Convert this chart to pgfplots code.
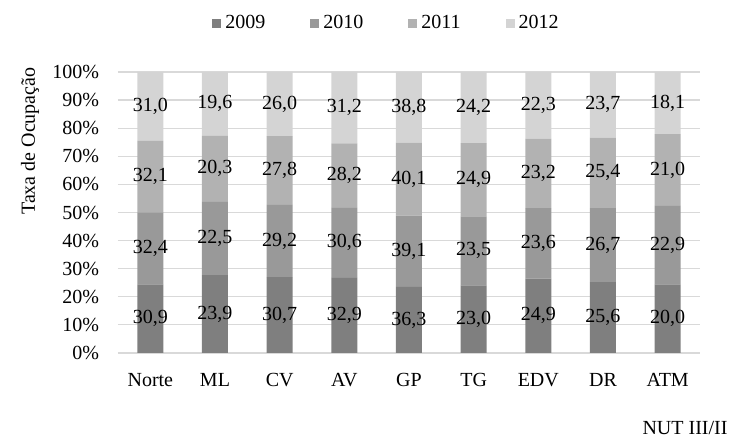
\documentclass[border=0pt]{standalone}
\usepackage{fontspec}
\setmainfont{Liberation Serif}
\usepackage{pgfplots}
\usepackage{pgfplotstable}
\pgfplotsset{compat=1.18}
\pgfkeys{/pgf/number format/assume math mode=true}
\definecolor{c09}{HTML}{7F7F7F}
\definecolor{c10}{HTML}{999999}
\definecolor{c11}{HTML}{B2B2B2}
\definecolor{c12}{HTML}{D4D4D4}
\definecolor{gridc}{HTML}{D9D9D9}

\pgfplotstableread{
idx cat a b c d
0 Norte 30.9 32.4 32.1 31.0
1 ML 23.9 22.5 20.3 19.6
2 CV 30.7 29.2 27.8 26.0
3 AV 32.9 30.6 28.2 31.2
4 GP 36.3 39.1 40.1 38.8
5 TG 23.0 23.5 24.9 24.2
6 EDV 24.9 23.6 23.2 22.3
7 DR 25.6 26.7 25.4 23.7
8 ATM 20.0 22.9 21.0 18.1
}\data
% shares of each year in the 100% column
\pgfplotstablecreatecol[create col/expr={100*\thisrow{a}/(\thisrow{a}+\thisrow{b}+\thisrow{c}+\thisrow{d})}]{pa}\data
\pgfplotstablecreatecol[create col/expr={100*\thisrow{b}/(\thisrow{a}+\thisrow{b}+\thisrow{c}+\thisrow{d})}]{pb}\data
\pgfplotstablecreatecol[create col/expr={100*\thisrow{c}/(\thisrow{a}+\thisrow{b}+\thisrow{c}+\thisrow{d})}]{pc}\data
\pgfplotstablecreatecol[create col/expr={100*\thisrow{d}/(\thisrow{a}+\thisrow{b}+\thisrow{c}+\thisrow{d})}]{pd}\data
% middle of each segment, for the value labels
\pgfplotstablecreatecol[create col/expr={\thisrow{pa}/2}]{ma}\data
\pgfplotstablecreatecol[create col/expr={\thisrow{pa}+\thisrow{pb}/2}]{mb}\data
\pgfplotstablecreatecol[create col/expr={\thisrow{pa}+\thisrow{pb}+\thisrow{pc}/2}]{mc}\data
\pgfplotstablecreatecol[create col/expr={\thisrow{pa}+\thisrow{pb}+\thisrow{pc}+\thisrow{pd}/2}]{md}\data

\pgfplotsset{
  sq/.style={legend image code/.code={\fill[##1] (0pt,-2.25pt) rectangle (4.5pt,2.25pt);}},
  common/.style={
    at={(0,0)}, anchor=south west,
    scale only axis, width=291pt, height=140.5pt,
    xmin=-0.5, xmax=8.5, ymin=0, ymax=100, enlargelimits=false,
  },
  lab/.style={
    draw=none, mark=none, point meta=explicit,
    nodes near coords={\pgfmathprintnumber[fixed,fixed zerofill,precision=1,use comma]{\pgfplotspointmeta}},
    every node near coord/.append style={anchor=center, text=black, inner sep=0pt}
  }
}

\begin{document}
\begin{tikzpicture}[font=\fontsize{10}{12}\selectfont]
\useasboundingbox (-59pt,-42.5pt) rectangle (306pt,176.5pt);
\begin{axis}[
  common,
  ybar stacked, bar width=13pt,
  xtick=data, xticklabels from table={\data}{cat},
  ytick={0,10,...,100}, yticklabel={\pgfmathprintnumber{\tick}\%},
  ymajorgrids, grid style={gridc, line width=0.6pt},
  separate axis lines, axis line style={draw=none}, major tick length=0pt,
  xticklabel style={anchor=base, yshift=-16.6pt},
  yticklabel style={anchor=east, xshift=-6pt},
  ylabel={Taxa de Ocupação},
  ylabel style={at={(axis description cs:-0.151,0.754)}, anchor=center},
  xlabel={NUT III/II},
  xlabel style={at={(axis description cs:1.048,-0.267)}, anchor=east, inner sep=0pt},
  legend columns=4,
  legend style={at={(axis description cs:0.4596,1.174)}, anchor=center, draw=none, fill=none,
    inner sep=0pt, nodes={inner sep=0pt},
    /tikz/every odd column/.append style={column sep=2pt},
    /tikz/every even column/.append style={column sep=22.5pt}},
]
\addplot[fill=c09, draw=none, sq] table[x=idx, y=pa] {\data};
\addplot[fill=c10, draw=none, sq] table[x=idx, y=pb] {\data};
\addplot[fill=c11, draw=none, sq] table[x=idx, y=pc] {\data};
\addplot[fill=c12, draw=none, sq] table[x=idx, y=pd] {\data};
\legend{2009,2010,2011,2012}
\end{axis}
\begin{axis}[common, hide axis]
\addplot[lab] table[x=idx, y=ma, meta=a] {\data};
\addplot[lab] table[x=idx, y=mb, meta=b] {\data};
\addplot[lab] table[x=idx, y=mc, meta=c] {\data};
\addplot[lab] table[x=idx, y=md, meta=d] {\data};
\end{axis}
\end{tikzpicture}
\end{document}
